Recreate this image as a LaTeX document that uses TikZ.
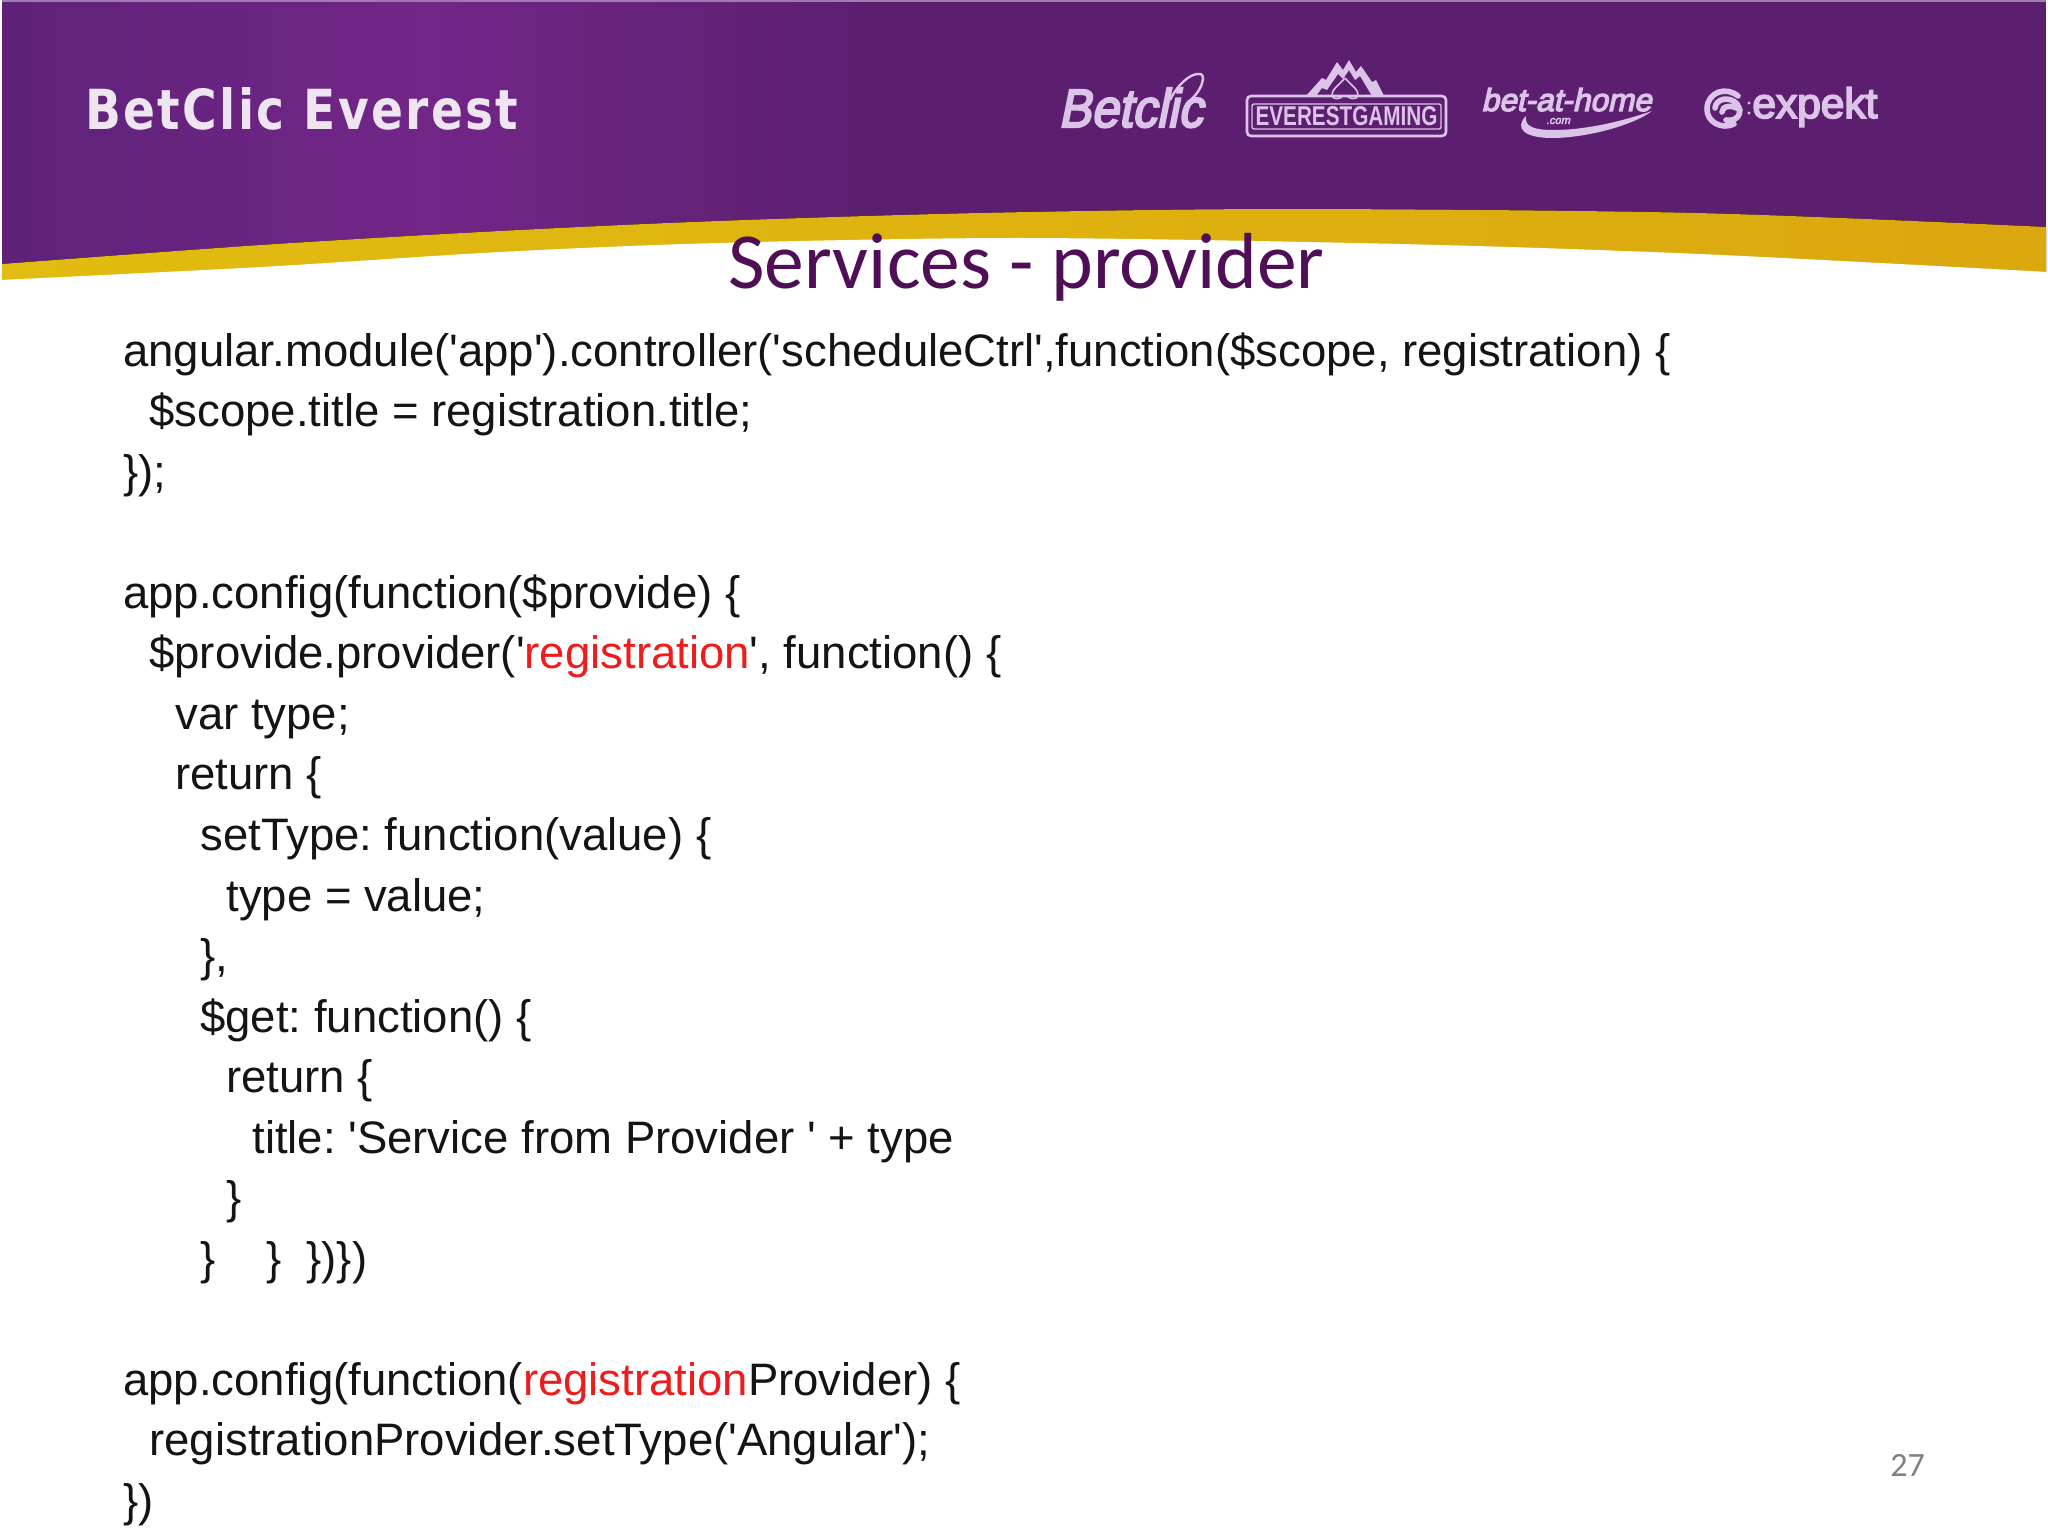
\documentclass[tikz,border=0pt]{standalone}
\usepackage{graphicx}
\usepackage{fontspec}
\newfontfamily\codefont{Liberation Sans}
\newfontfamily\titlefont{Carlito}
\newfontfamily\brandfont[LetterSpace=5]{DejaVu Sans}
\newfontfamily\heavyslant[FakeBold=4,FakeSlant=0.22]{Liberation Sans}
\newfontfamily\heavyfont[FakeBold=4]{Liberation Sans}
\definecolor{purpA}{HTML}{5E2279}
\definecolor{purpB}{HTML}{722688}
\definecolor{purpC}{HTML}{5C1F70}
\definecolor{goldA}{HTML}{E2BC10}
\definecolor{goldB}{HTML}{DBA80F}
\definecolor{logoC}{HTML}{DCC3E8}
\definecolor{titleC}{HTML}{4E0F57}
\definecolor{regC}{HTML}{EE1C1C}
\tikzset{
  codeline/.style={anchor=base west,inner sep=0pt,text=black!92,font=\codefont\frenchspacing\fontsize{22.75}{27}\selectfont},
  logotext/.style={inner sep=0pt,text=logoC},
  logostroke/.style={draw=logoC,line width=1.3pt},
}
\newcommand{\reg}[1]{\textcolor{regC}{#1}}
\begin{document}
\begin{tikzpicture}[x=0.5pt,y=-0.5pt]
\useasboundingbox (0,0) rectangle (2048,1536);
\fill[white] (0,0) rectangle (2048,1536);
% banner
\fill[left color=purpA,right color=purpB,draw=none] (2,2) rectangle (430,290);
\fill[left color=purpB,right color=purpC,draw=none] (430,2) rectangle (860,290);
\fill[purpC] (860,2) rectangle (2046,290);
\fill[purpA!60!white] (2,0) rectangle (2046,2);
% gold band and white below
\fill[left color=goldA,right color=goldB] plot[smooth] coordinates {(2,264) (261,245) (500,231) (718,221) (980,213) (1285,209) (1697,213) (2046,227)} -- (2046,300) -- (2,300) -- cycle;
\fill[white] plot[smooth] coordinates {(0,280) (261,267) (500,252) (718,243) (1024,238) (1400,244) (1700,254) (2048,272)} -- (2048,320) -- (0,320) -- cycle;
% brand
\node[inner sep=0pt,anchor=base west,text=white!88!purpB] (brand) at (85,129) {\resizebox{216.5pt}{21pt}{\brandfont\bfseries BetClic Everest}};
% logos
\node[logotext,anchor=base west] (betclic) at (1058,127) {\resizebox{72pt}{19.5pt}{\heavyslant Betclic}};
\coordinate (sw2) at (1198,74);
\draw[logostroke,line width=1.2pt] (1170,100) .. controls (1178,84) and (1190,74) .. (sw2) .. controls (1208,72) and (1202,92) .. (1188,102);
\draw[logostroke,fill=purpC,rounded corners=2pt] (1247,96) rectangle (1446,136);
\draw[logostroke,line width=0.7pt,rounded corners=1pt] (1252,104) rectangle (1441,129);
\fill[logoC] (1306,96) -- (1322,78) -- (1326,80) -- (1337,62) -- (1343,70) -- (1349,60) -- (1356,72) -- (1361,66) -- (1372,82) -- (1376,80) -- (1384,96) -- (1372,96) -- (1360,76) -- (1355,80) -- (1349,70) -- (1343,79) -- (1338,74) -- (1327,90) -- (1322,88) -- (1316,96) -- cycle;
\draw[logostroke,line width=0.8pt] (1345,78) .. controls (1338,86) and (1331,90) .. (1332,96) .. controls (1334,100) and (1340,99) .. (1343,96) -- (1341,96) (1345,78) .. controls (1352,86) and (1359,90) .. (1358,96) .. controls (1356,100) and (1350,99) .. (1347,96);
\node[logotext,anchor=center] (everest) at (1346.5,116.5) {\resizebox{91pt}{9.5pt}{\codefont\bfseries EVERESTGAMING}};
\node[logotext,anchor=base west] (bah) at (1481,111) {\resizebox{85pt}{11.5pt}{\heavyslant bet-at-home}};
\node[logotext,anchor=center] (bahcom) at (1558,121) {\resizebox{12pt}{!}{\heavyslant .com}};
\fill[logoC] (1526,116) .. controls (1514,128) and (1524,138) .. (1552,138) .. controls (1585,138) and (1632,126) .. (1652,111) .. controls (1620,122) and (1585,130) .. (1553,130) .. controls (1535,130) and (1524,127) .. (1526,116) -- cycle;
\begin{scope}[logostroke,line width=2.8pt,line cap=round]
\draw (1738,96) .. controls (1726,86) and (1708,92) .. (1707,108) .. controls (1706,122) and (1722,130) .. (1734,124);
\draw (1715,108) .. controls (1716,98) and (1730,96) .. (1737,104) .. controls (1744,114) and (1736,122) .. (1726,120);
\draw (1740,110) .. controls (1732,104) and (1722,106) .. (1722,112);
\fill[logoC] (1749,103) circle (1.6) (1749,113) circle (1.6);
\end{scope}
\node[logotext,anchor=base west] (expekt) at (1752,118) {\resizebox{62.5pt}{!}{\heavyfont expekt}};
% title
\node[inner sep=0pt,anchor=base west,text=titleC,font=\titlefont\fontsize{39.75}{44}\selectfont] (title) at (728,288) {Services - provider};
% code
\node[codeline] (l1) at (123,366) {angular.module('app').controller('scheduleCtrl',function(\$scope, registration) \{};
\node[codeline] (l2) at (149,426.6) {\$scope.title = registration.title;};
\node[codeline] (l3) at (123,487.1) {\});};
\node[codeline] (l5) at (123,608.2) {app.config(function(\$provide) \{};
\node[codeline] (l6) at (149,668.8) {\$provide.provider('\reg{registration}', function() \{};
\node[codeline] (l7) at (175,729.3) {var type;};
\node[codeline] (l8) at (175,789.9) {return \{};
\node[codeline] (l9) at (200,850.4) {setType: function(value) \{};
\node[codeline] (l10) at (226,911) {type = value;};
\node[codeline] (l11) at (200,971.5) {\},};
\node[codeline] (l12) at (200,1032.1) {\$get: function() \{};
\node[codeline] (l13) at (226,1092.6) {return \{};
\node[codeline] (l14) at (252,1153.2) {title: 'Service from Provider ' + type};
\node[codeline] (l15) at (226,1213.7) {\}};
\node[codeline] (l16) at (200,1274.3) {\}\ \ \ \ \}\ \ \})\})};
\node[codeline] (l18) at (123,1395.4) {app.config(function(\reg{registration}Provider) \{};
\node[codeline] (l19) at (149,1455.9) {registrationProvider.setType('Angular');};
\node[codeline] (l20) at (123,1516.5) {\})};
% page number
\node[inner sep=0pt,anchor=base west,text=black!50,font=\titlefont\fontsize{17}{19}\selectfont] (page) at (1890,1476) {27};
\end{tikzpicture}
\end{document}
